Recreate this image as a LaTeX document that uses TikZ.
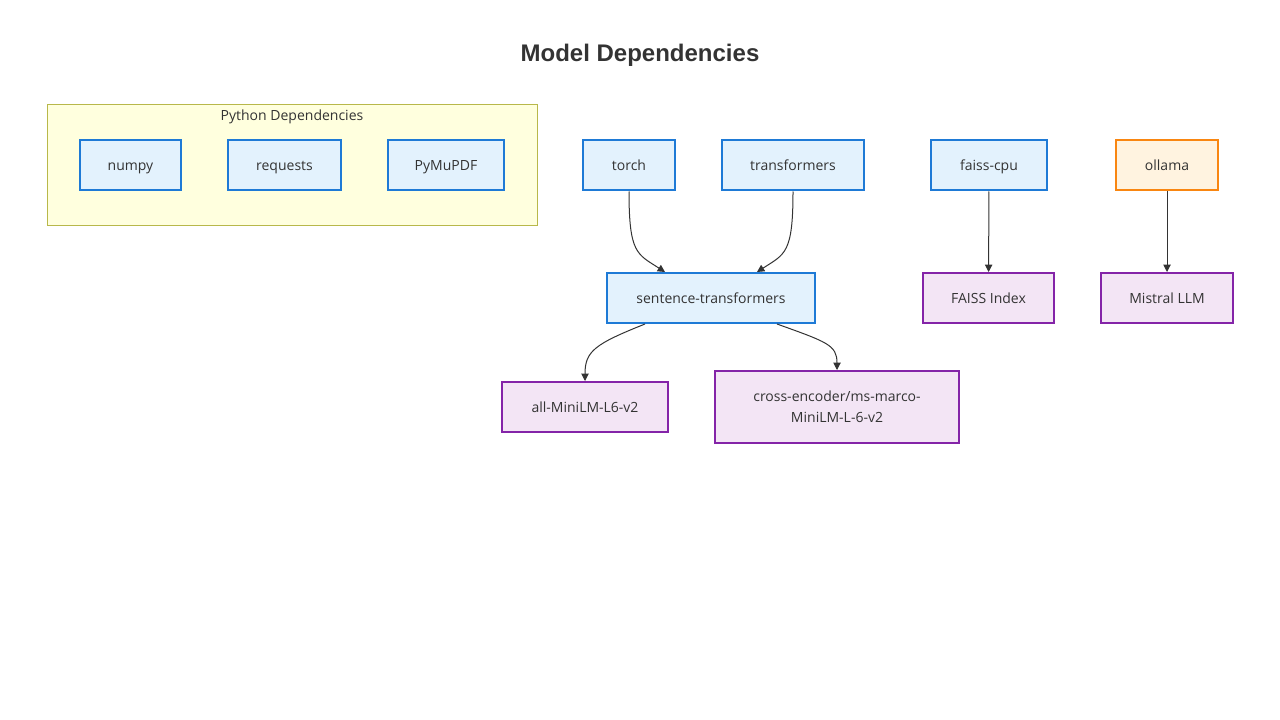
\documentclass[tikz,border=0pt]{standalone}
\usepackage{fontspec}
\setmainfont{Open Sans}
\newfontfamily\titlefont{Liberation Sans}
\usetikzlibrary{arrows.meta}

\definecolor{pkgfill}{HTML}{E3F2FD}
\definecolor{pkgline}{HTML}{1E7AD6}
\definecolor{modfill}{HTML}{F3E5F5}
\definecolor{modline}{HTML}{8424A8}
\definecolor{srvfill}{HTML}{FFF3E0}
\definecolor{srvline}{HTML}{F98611}
\definecolor{grpfill}{HTML}{FFFFDE}
\definecolor{grpline}{HTML}{B8B84A}
\definecolor{edge}{HTML}{333333}

\begin{document}
\begin{tikzpicture}[x=0.75pt, y=-0.75pt,
  every node/.style={font=\fontsize{10.5}{13}\selectfont, text=edge, inner sep=0pt},
  oneline/.style={text height=9pt, text depth=1.5pt},
  pkg/.style={draw=pkgline, fill=pkgfill, line width=1.5pt, minimum height=37.5pt, oneline},
  model/.style={draw=modline, fill=modfill, line width=1.5pt, minimum height=37.5pt, oneline},
  twoline/.style={draw=modline, fill=modfill, line width=1.5pt, align=center},
  service/.style={draw=srvline, fill=srvfill, line width=1.5pt, minimum height=37.5pt, oneline},
  dep/.style={draw=edge, line width=0.75pt, -{Triangle[length=5.5pt, width=5.5pt]}}]
  \useasboundingbox (0,0) rectangle (1280,720);

  % Title
  \node[font=\titlefont\bfseries\fontsize{18}{22}\selectfont] (title) at (640,55) {Model Dependencies};

  % Python Dependencies group
  \node[draw=grpline, fill=grpfill, line width=0.75pt, minimum width=367.5pt, minimum height=90.75pt] (pygroup) at (292,165.5) {};
  \node[oneline] (pylabel) at (292,116) {Python Dependencies};
  \node[pkg, minimum width=75.75pt] (numpy) at (130.5,165.5) {numpy};
  \node[pkg, minimum width=84.75pt] (requests) at (284.5,165.5) {requests};
  \node[pkg, minimum width=87pt] (pymupdf) at (446,165.5) {PyMuPDF};

  % Top row packages
  \node[pkg, minimum width=69pt] (torch) at (629,165.5) {torch};
  \node[pkg, minimum width=106.5pt] (transformers) at (793,165.5) {transformers};
  \node[pkg, minimum width=87pt] (faiss) at (989,165.5) {faiss-cpu};
  \node[service, minimum width=76.5pt] (ollama) at (1167,165.5) {ollama};

  % Middle row
  \node[pkg, minimum width=156pt] (sentence) at (711,298) {sentence-transformers};
  \node[model, minimum width=98.25pt] (faissidx) at (988.5,298) {FAISS Index};
  \node[model, minimum width=99pt] (mistral) at (1167,298) {Mistral LLM};

  % Models
  \node[model, minimum width=124.5pt] (minilm) at (585,407) {all-MiniLM-L6-v2};
  \node[twoline, minimum width=183pt, minimum height=54pt] (crossenc) at (837,407)
    {cross-encoder/ms-marco-\\[3pt]MiniLM-L-6-v2};

  % Arrows
  \draw[dep] (torch.south) .. controls +(0,62) and +(-28,-18) .. ([xshift=-34.5pt]sentence.north);
  \draw[dep] (transformers.south) .. controls +(0,62) and +(28,-18) .. ([xshift=34.5pt]sentence.north);
  \draw[dep] ([xshift=-49.5pt]sentence.south) .. controls +(-50,20) and +(0,-30) .. (minilm.north);
  \draw[dep] ([xshift=49.5pt]sentence.south) .. controls +(50,18) and +(0,-25) .. (crossenc.north);
  \draw[dep] (faiss) -- (faissidx);
  \draw[dep] (ollama) -- (mistral);
\end{tikzpicture}
\end{document}
